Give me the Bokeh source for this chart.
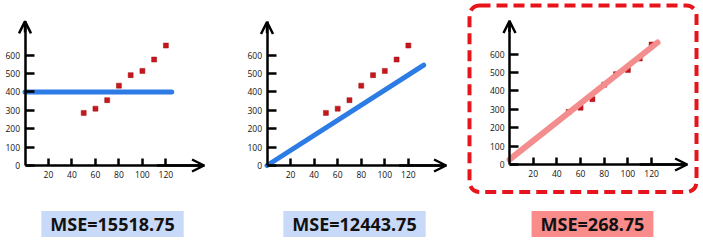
from bokeh.plotting import figure
from bokeh.layouts import row
from bokeh.models import Range1d, FixedTicker, Arrow, OpenHead, Label, BoxAnnotation
from bokeh.embed import file_html
from bokeh.resources import INLINE

# data
xs = [50, 60, 70, 80, 90, 100, 110, 120]
ys = [286, 309, 355, 434, 491, 514, 576, 652]
x_ticks = [20, 40, 60, 80, 100, 120]
y_ticks = [0, 100, 200, 300, 400, 500, 600]
fit1_x = [0, 125]
fit1_y = [400, 400]
fit2_x = [0, 133]
fit2_y = [0, 546]
fit3_x = [0, 125]
fit3_y = [27, 663]
mse_labels = ["MSE=15518.75", "MSE=12443.75", "MSE=268.75"]

H = 244
panels = [
    dict(w=235, left=24.5, bottom_px=165, xpx=1.174, ypx=0.184, xtip=152.5, ytip=783,
         fx=fit1_x, fy=fit1_y, color="#2d7be5", lw=5, mse=mse_labels[0], box="#c9daf8", cx=112),
    dict(w=230, left=31.5, bottom_px=165, xpx=1.178, ypx=0.184, xtip=152, ytip=780,
         fx=fit2_x, fy=fit2_y, color="#2d7be5", lw=5, mse=mse_labels[1], box="#c9daf8", cx=119),
    dict(w=238, left=44, bottom_px=164, xpx=1.184, ypx=0.184, xtip=150, ytip=780,
         fx=fit3_x, fy=fit3_y, color="#f48d8d", lw=6, mse=mse_labels[2], box="#f98b8b", cx=127),
]

figs = []
for i, P in enumerate(panels):
    W = P["w"]
    L = P["left"]
    B = P["bottom_px"]
    p = figure(width=W, height=H, output_backend="svg", toolbar_location=None,
               x_range=Range1d(-L / P["xpx"], (W - L) / P["xpx"]),
               y_range=Range1d(-(H - B) / P["ypx"], B / P["ypx"]),
               min_border=0)
    p.outline_line_color = None
    p.grid.visible = False
    p.background_fill_color = "white"
    p.border_fill_color = "white"
    for ax, ticks, tin, tip in ((p.xaxis, x_ticks, 7, P["xtip"]), (p.yaxis, y_ticks, 9, P["ytip"])):
        ax.fixed_location = 0
        ax.ticker = FixedTicker(ticks=ticks)
        ax.minor_tick_line_color = None
        ax.major_tick_in = tin
        ax.major_tick_out = 0
        ax.major_tick_line_width = 2.5
        ax.major_tick_line_color = "black"
        ax.axis_line_width = 2.5
        ax.axis_line_color = "black"
        ax.bounds = (0, tip)
        ax.major_label_text_font = "Open Sans"
        ax.major_label_text_font_size = "8.5px"
        ax.major_label_text_color = "#111111"
        ax.major_label_standoff = 5
    # arrow heads
    p.add_layout(Arrow(end=OpenHead(size=12, line_width=2.5, line_color="black"),
                       x_start=0, y_start=P["ytip"] - 60, x_end=0, y_end=P["ytip"],
                       line_width=2.5, line_color="black"))
    p.add_layout(Arrow(end=OpenHead(size=12, line_width=2.5, line_color="black"),
                       x_start=P["xtip"] - 40, y_start=0, x_end=P["xtip"], y_end=0,
                       line_width=2.5, line_color="black"))
    p.scatter(xs, ys, marker="square", size=5, fill_color="#c8161d", line_color="#a01015", line_width=0.5)
    p.line(P["fx"], P["fy"], line_width=P["lw"], line_color=P["color"], line_cap="round")
    p.add_layout(Label(x=P["cx"], y=H - 223.5, x_units="screen", y_units="screen",
                       text=P["mse"], text_align="center", text_baseline="middle",
                       text_font="Noto Sans", text_font_style="bold", text_font_size="18px",
                       text_color="#111111", background_fill_color=P["box"], padding=(9, 1)))
    if i == 2:
        p.add_layout(BoxAnnotation(left=4, right=231, top=H - 5, bottom=H - 191.5,
                                   left_units="screen", right_units="screen",
                                   top_units="screen", bottom_units="screen",
                                   fill_alpha=0, line_color="#e8141c", line_alpha=1.0, line_width=4,
                                   line_dash="11 6", border_radius=10))
    figs.append(p)

layout = row(*figs, spacing=0)
open("out.html", "w").write(file_html(layout, INLINE))
